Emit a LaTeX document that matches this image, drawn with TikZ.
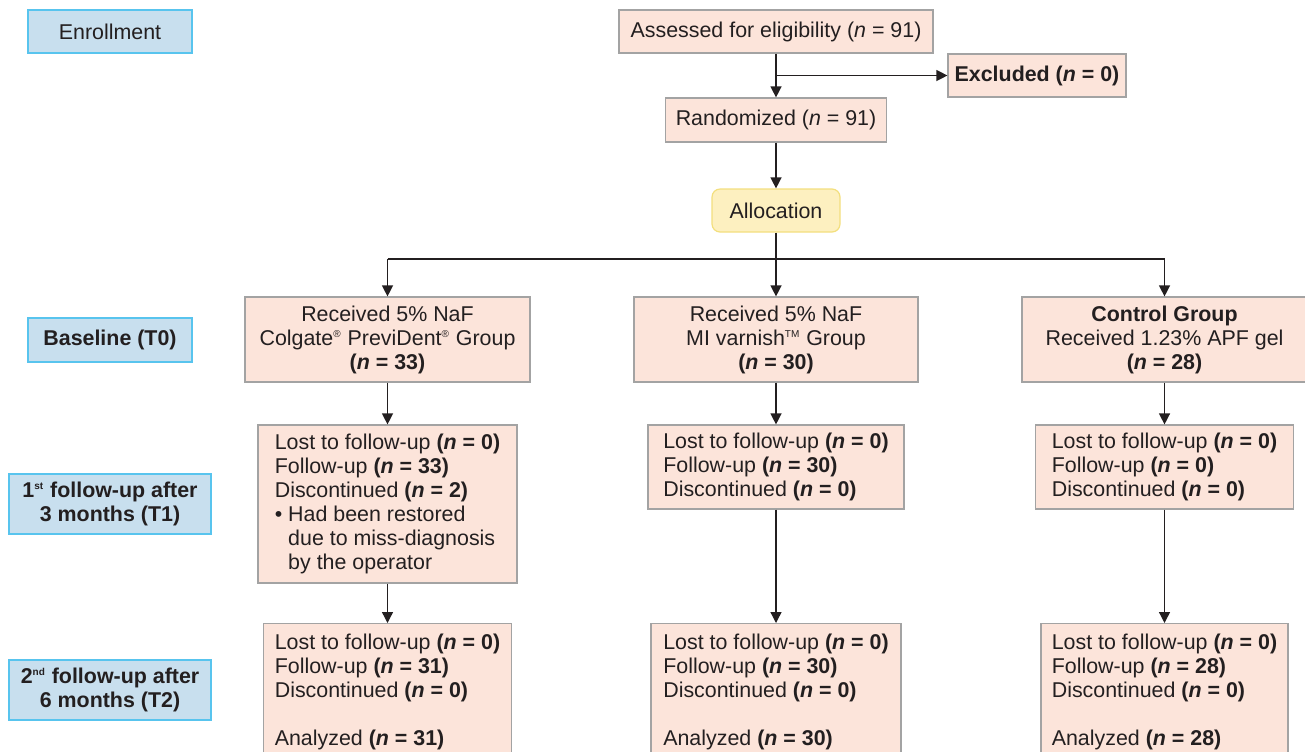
\documentclass[tikz,border=0pt]{standalone}
\usepackage{fontspec}
\setmainfont{Liberation Sans}
\usepackage{tikz}
\usetikzlibrary{arrows.meta}

\definecolor{boxfill}{HTML}{FCE4DA}
\definecolor{boxline}{HTML}{A3A3A3}
\definecolor{stagefill}{HTML}{C8DFEE}
\definecolor{stageline}{HTML}{58C4EE}
\definecolor{allocfill}{HTML}{FDF0C0}
\definecolor{allocline}{HTML}{F3DF7E}
\definecolor{ink}{HTML}{231F20}

\newcommand{\nn}[1]{\textbf{(\textit{n} = #1)}}
\newcommand{\sups}[1]{\textsuperscript{\tiny #1}}

\begin{document}
\begin{tikzpicture}[x=0.5pt,y=-0.5pt,
    every node/.style={font=\fontsize{10.7}{12}\selectfont},
    box/.style={draw=boxline, fill=boxfill, line width=0.6pt, text=ink,
      inner sep=0pt, align=center},
    listbox/.style={box, align=left, anchor=north, inner ysep=5pt},
    stage/.style={draw=stageline, fill=stagefill, line width=0.6pt, text=ink,
      inner sep=0pt, align=center},
    alloc/.style={draw=allocline, fill=allocfill, line width=0.6pt, text=ink,
      rounded corners=4pt, inner sep=0pt},
    arr/.style={draw=ink, line width=0.65pt, -{Triangle[length=5.5pt,width=5.5pt]}},
    ln/.style={draw=ink, line width=0.65pt}]
    \useasboundingbox (0,0) rectangle (1305,751);
    \clip (0,0) rectangle (1305,751);

    % stage labels
    \node[stage, minimum width=82pt, minimum height=21.5pt] (enroll) at (110,31.5) {Enrollment};
    \node[stage, minimum width=82pt, minimum height=22pt] (base) at (110,340) {\bfseries Baseline (T0)};
    \node[stage, minimum width=101pt, minimum height=30pt] (fuA) at (110,504) {\bfseries 1\sups{st} follow-up after\\\bfseries 3 months (T1)};
    \node[stage, minimum width=101pt, minimum height=30pt] (fuB) at (110,690) {\bfseries 2\sups{nd} follow-up after\\\bfseries 6 months (T2)};

    % enrollment
    \node[box, minimum width=157pt, minimum height=21.5pt] (assess) at (776,31.5) {Assessed for eligibility (\textit{n} = 91)};
    \node[box, minimum width=89pt, minimum height=21.5pt] (excl) at (1037,75.5) {\bfseries Excluded (\textit{n} = 0)};
    \node[box, minimum width=110.5pt, minimum height=22pt] (rand) at (776,120) {Randomized (\textit{n} = 91)};
    \node[alloc, minimum width=64pt, minimum height=21.5pt] (alloc) at (776,210.5) {Allocation};

    % baseline groups
    \node[box, minimum width=142.5pt, minimum height=42.5pt] (grpA) at (387.5,339.5)
      {Received 5\% NaF\\Colgate\sups{®} PreviDent\sups{®} Group\\\nn{33}};
    \node[box, minimum width=142pt, minimum height=42.5pt] (grpB) at (776,339.5)
      {Received 5\% NaF\\MI varnish\sups{TM} Group\\\nn{30}};
    \node[box, minimum width=142.5pt, minimum height=42.5pt] (grpC) at (1164.5,339.5)
      {\textbf{Control Group}\\Received 1.23\% APF gel\\\nn{28}};

    % first follow-up
    \node[box, align=left, minimum width=129.5pt, minimum height=79pt] (fuA1) at (387.5,504)
      {Lost to follow-up \nn{0}\\Follow-up \nn{33}\\Discontinued \nn{2}\\
       \textbullet\ Had been restored\\\hphantom{\textbullet\ }due to miss-diagnosis\\
       \hphantom{\textbullet\ }by the operator};
    \node[box, align=left, minimum width=128pt, minimum height=42pt] (fuB1) at (776,467)
      {Lost to follow-up \nn{0}\\Follow-up \nn{30}\\Discontinued \nn{0}};
    \node[box, align=left, minimum width=129pt, minimum height=42pt] (fuC1) at (1164.5,467)
      {Lost to follow-up \nn{0}\\Follow-up \nn{0}\\Discontinued \nn{0}};

    % second follow-up
    \node[listbox, minimum width=124pt] (fuA2) at (387.5,623)
      {Lost to follow-up \nn{0}\\Follow-up \nn{31}\\Discontinued \nn{0}\\[12pt]Analyzed \nn{31}};
    \node[listbox, minimum width=125pt] (fuB2) at (776,623)
      {Lost to follow-up \nn{0}\\Follow-up \nn{30}\\Discontinued \nn{0}\\[12pt]Analyzed \nn{30}};
    \node[listbox, minimum width=123.5pt] (fuC2) at (1164.5,623)
      {Lost to follow-up \nn{0}\\Follow-up \nn{28}\\Discontinued \nn{0}\\[12pt]Analyzed \nn{28}};

    % connectors
    \coordinate (split) at (assess.south |- excl.west);
    \coordinate (fork) at (776,259);
    \draw[arr] (assess.south) -- (rand.north);
    \draw[arr] (split) -- (excl.west);
    \draw[arr] (rand.south) -- (alloc.north);
    \draw[ln] (alloc.south) -- (fork);
    \draw[ln] (grpA.north |- fork) -- (grpC.north |- fork);
    \draw[arr] (grpA.north |- fork) -- (grpA.north);
    \draw[arr] (fork) -- (grpB.north);
    \draw[arr] (grpC.north |- fork) -- (grpC.north);
    \draw[arr] (grpA.south) -- (fuA1.north);
    \draw[arr] (grpB.south) -- (fuB1.north);
    \draw[arr] (grpC.south) -- (fuC1.north);
    \draw[arr] (fuA1.south) -- (fuA2.north);
    \draw[arr] (fuB1.south) -- (fuB2.north);
    \draw[arr] (fuC1.south) -- (fuC2.north);
\end{tikzpicture}
\end{document}
